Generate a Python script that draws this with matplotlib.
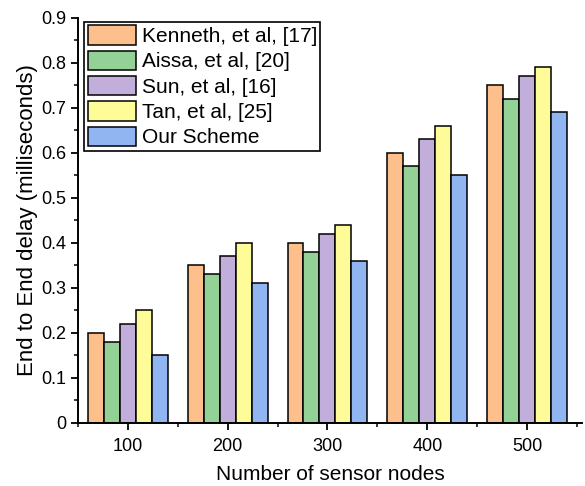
import matplotlib
matplotlib.use("Agg")
import matplotlib.pyplot as plt
from matplotlib.ticker import MultipleLocator, FuncFormatter
import numpy as np

plt.rcParams['font.family'] = ['Liberation Sans', 'DejaVu Sans']

nodes = [100, 200, 300, 400, 500]
series_names = ["Kenneth, et al, [17]", "Aissa, et al, [20]", "Sun, et al, [16]",
                "Tan, et al, [25]", "Our Scheme"]
kenneth = [0.20, 0.35, 0.40, 0.60, 0.75]
aissa = [0.18, 0.33, 0.38, 0.57, 0.72]
sun = [0.22, 0.37, 0.42, 0.63, 0.77]
tan = [0.25, 0.40, 0.44, 0.66, 0.79]
ours = [0.15, 0.31, 0.36, 0.55, 0.69]
colors = ["#FDBF8C", "#94D197", "#C2AEDB", "#FDFC98", "#91B5F0"]

fig = plt.figure(figsize=(5.85, 4.86), dpi=100)
ax = fig.add_axes([0.133, 0.130, 0.862, 0.833])

width = 16
x = np.array(nodes, dtype=float)
all_series = [kenneth, aissa, sun, tan, ours]
for i, (vals, name, c) in enumerate(zip(all_series, series_names, colors)):
    ax.bar(x + (i - 2) * width, vals, width=width, color=c, edgecolor='black',
           linewidth=1.1, label=name)

ax.set_xlim(50, 555)
ax.set_ylim(0, 0.9)
ax.set_xticks(nodes)
ax.set_xticklabels([str(n) for n in nodes])
ax.xaxis.set_minor_locator(MultipleLocator(50))
ax.yaxis.set_major_locator(MultipleLocator(0.1))
ax.yaxis.set_minor_locator(MultipleLocator(0.05))
ax.yaxis.set_major_formatter(FuncFormatter(lambda v, p: '0' if abs(v) < 1e-9 else f"{v:.1f}"))

for s in ['top', 'right']:
    ax.spines[s].set_visible(False)
for s in ['left', 'bottom']:
    ax.spines[s].set_linewidth(1.4)

ax.tick_params(which='major', direction='out', length=5, width=1.3, labelsize=13, colors='black')
ax.tick_params(which='minor', direction='out', length=3, width=1.1)
ax.tick_params(axis='x', pad=6)

ax.set_xlabel("Number of sensor nodes", fontsize=15, labelpad=7)
ax.set_ylabel("End to End delay (milliseconds)", fontsize=16, labelpad=2)

leg = ax.legend(loc='upper left', bbox_to_anchor=(0.005, 1.0), fontsize=15,
                handlelength=2.3, handleheight=1.05, labelspacing=0.22,
                handletextpad=0.3, borderpad=0.15, borderaxespad=0.2,
                fancybox=False, framealpha=1, edgecolor='black')
leg.get_frame().set_linewidth(1.2)

fig.savefig("out.png", dpi=100)
